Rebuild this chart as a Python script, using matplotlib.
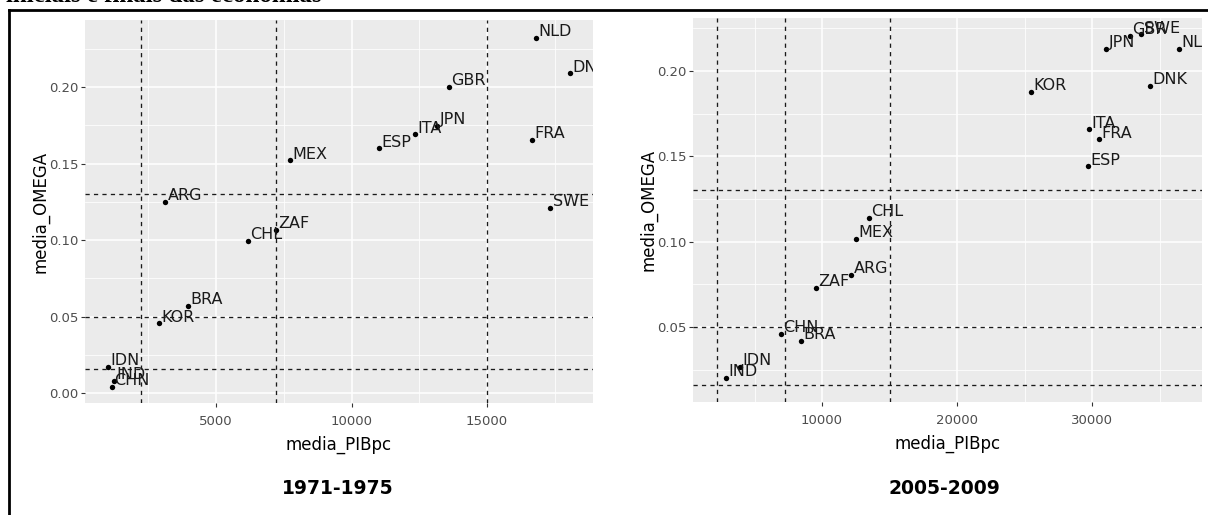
import numpy as np
import matplotlib
matplotlib.use('Agg')
import matplotlib.pyplot as plt
from matplotlib.lines import Line2D

plt.rcParams['font.family'] = ['DejaVu Sans']

# dados: periodo 1971-1975
paises_71 = ['NLD', 'DNK', 'GBR', 'JPN', 'ITA', 'ESP', 'FRA', 'MEX', 'SWE', 'ARG',
             'ZAF', 'CHL', 'BRA', 'KOR', 'IDN', 'IND', 'CHN']
pib_71 = [16810, 18060, 13600, 13155, 12345, 11015, 16660, 7730, 17325, 3120,
          7215, 6180, 3965, 2900, 1015, 1235, 1160]
omega_71 = [0.232, 0.209, 0.200, 0.1745, 0.169, 0.160, 0.1655, 0.152, 0.121, 0.125,
            0.1065, 0.0995, 0.057, 0.0455, 0.0172, 0.0082, 0.0042]

# periodo 2005-2009
paises_05 = ['GBR', 'SWE', 'JPN', 'NLD', 'DNK', 'KOR', 'ITA', 'FRA', 'ESP', 'CHL',
             'MEX', 'ARG', 'ZAF', 'CHN', 'BRA', 'IDN', 'IND']
pib_05 = [32800, 33630, 31040, 36440, 34300, 25480, 29780, 30520, 29700, 13480,
          12520, 12150, 9560, 6960, 8440, 3930, 2890]
omega_05 = [0.2205, 0.2215, 0.2129, 0.2129, 0.1912, 0.1877, 0.1658, 0.160, 0.144, 0.114,
            0.1018, 0.0805, 0.0729, 0.0459, 0.0418, 0.0266, 0.020]

# linhas de referencia
vlinhas = [2230, 7230, 15000]
hlinhas = [0.016, 0.05, 0.13]

fig = plt.figure(figsize=(12.08, 5.15), dpi=100)
fig.patch.set_facecolor('white')


def painel(ax, x, y, nomes, xlim, ylim, xmaj, xmin, ymaj, ymin):
    ax.set_facecolor('#EBEBEB')
    for s in ax.spines.values():
        s.set_visible(False)
    ax.set_xlim(xlim)
    ax.set_ylim(ylim)
    ax.set_xticks(xmaj)
    ax.set_xticks(xmin, minor=True)
    ax.set_yticks(ymaj)
    ax.set_yticks(ymin, minor=True)
    ax.set_xticklabels([str(v) for v in xmaj])
    ax.set_yticklabels(['%.2f' % v for v in ymaj])
    ax.grid(which='major', color='white', lw=1.1)
    ax.grid(which='minor', color='white', lw=0.55)
    ax.set_axisbelow(True)
    ax.tick_params(which='major', length=3, width=0.8, color='#333333',
                   labelsize=9.5, labelcolor='#4D4D4D', pad=1.8)
    ax.tick_params(axis='x', which='major', pad=5.5)
    ax.tick_params(which='minor', length=0)
    for v in vlinhas:
        ax.axvline(v, color='#1a1a1a', lw=0.95, ls=(0, (3.2, 3.2)))
    for h in hlinhas:
        ax.axhline(h, color='#1a1a1a', lw=0.95, ls=(0, (3.2, 3.2)))
    ax.scatter(x, y, s=15, color='black', zorder=3, lw=0)
    for xi, yi, n in zip(x, y, nomes):
        ax.annotate(n, (xi, yi), xytext=(1.8, 1.2), textcoords='offset points',
                    ha='left', va='baseline', fontsize=11.5, color='#1a1a1a',
                    annotation_clip=False, clip_on=True, zorder=4)
    ax.set_xlabel('media_PIBpc', fontsize=12, color='black', labelpad=6)
    ax.set_ylabel('media_OMEGA', fontsize=12, color='black', labelpad=-0.5)


ax1 = fig.add_axes([85 / 1208, 1 - 403 / 515, 508 / 1208, 383 / 515])
painel(ax1, pib_71, omega_71, paises_71, (166, 18911), (-0.0065, 0.2438),
       [5000, 10000, 15000], [2500, 7500, 12500, 17500],
       [0.0, 0.05, 0.10, 0.15, 0.20], [0.025, 0.075, 0.125, 0.175, 0.225])

ax2 = fig.add_axes([693 / 1208, 1 - 402 / 515, 509 / 1208, 384 / 515])
painel(ax2, pib_05, omega_05, paises_05, (444, 38148), (0.006, 0.231),
       [10000, 20000, 30000], [5000, 15000, 25000, 35000],
       [0.05, 0.10, 0.15, 0.20], [0.025, 0.075, 0.125, 0.175, 0.225])

# legendas dos periodos
fig.text(338 / 1208, 1 - 488 / 515, '1971-1975', ha='center', va='center',
         fontsize=13.5, fontweight='bold')
fig.text(944 / 1208, 1 - 488 / 515, '2005-2009', ha='center', va='center',
         fontsize=13.5, fontweight='bold')

# titulo cortado no topo
fig.text(6 / 1208, 1 - 1.5 / 515, 'iniciais e finais das economias', ha='left',
         va='baseline', fontsize=18, fontweight='bold', family='Liberation Serif')

# moldura
fig.add_artist(Line2D([9 / 1208, 9 / 1208], [0, 1 - 10 / 515], color='black', lw=2,
                      transform=fig.transFigure))
fig.add_artist(Line2D([9 / 1208, 1], [1 - 10 / 515, 1 - 10 / 515], color='black', lw=2,
                      transform=fig.transFigure))

fig.savefig('out.png', dpi=100)
